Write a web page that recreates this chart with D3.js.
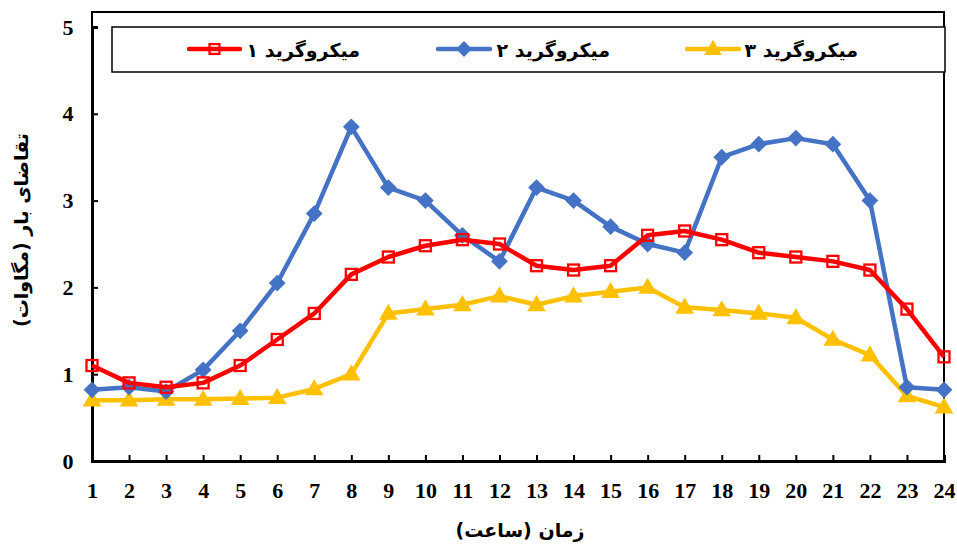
<!DOCTYPE html>
<html><head><meta charset="utf-8">
<script src="https://cdn.jsdelivr.net/npm/d3@7"></script>
<style>body{margin:0;background:#fff}svg{display:block}</style>
</head><body>
<script>
const hours = d3.range(1,25);
const yTicks = [0,1,2,3,4,5];
const seriesNames = ["میکروگرید ۱","میکروگرید ۲","میکروگرید ۳"];
const mg1 = [1.1,0.9,0.85,0.9,1.1,1.4,1.7,2.15,2.35,2.48,2.55,2.5,2.25,2.2,2.25,2.6,2.65,2.55,2.4,2.35,2.3,2.2,1.75,1.2];
const mg2 = [0.82,0.85,0.8,1.05,1.5,2.05,2.85,3.85,3.15,3.0,2.6,2.3,3.15,3.0,2.7,2.5,2.4,3.5,3.65,3.72,3.65,3.0,0.85,0.82];
const mg3 = [0.7,0.7,0.71,0.71,0.72,0.73,0.83,1.0,1.7,1.75,1.8,1.9,1.8,1.9,1.95,2.0,1.77,1.74,1.7,1.65,1.4,1.22,0.75,0.62];
const xTitle = "زمان (ساعت)";
const yTitle = "تقاضای بار (مگاوات)";

const W=957,H=544;
const L=92,R=944,T=12,B=461;
const svg=d3.select("body").append("svg").attr("width",W).attr("height",H);
const x=d3.scaleLinear().domain([1,24]).range([L,R]);
const y=d3.scaleLinear().domain([0,5]).range([B,27]);
const font='"Liberation Serif","Times New Roman",serif';
const afont='"DejaVu Sans","Noto Sans",sans-serif';

// frame
svg.append("rect").attr("x",L).attr("y",T).attr("width",R-L).attr("height",B-T)
  .attr("fill","none").attr("stroke","#000").attr("stroke-width",2);

// y axis
const ya=svg.append("g").attr("transform",`translate(${L},0)`)
  .call(d3.axisRight(y).tickValues(yTicks).tickSize(6).tickFormat(d3.format("d")));
ya.select(".domain").attr("stroke","#000").attr("stroke-width",3);
ya.selectAll(".tick line").attr("stroke","#000").attr("stroke-width",2);
ya.selectAll(".tick text").attr("x",-24).attr("text-anchor","middle")
  .style("font-family",font).style("font-weight","bold").style("font-size","22px").attr("fill","#000");

// x axis
const xa=svg.append("g").attr("transform",`translate(0,${B})`)
  .call(d3.axisTop(x).tickValues(hours).tickSize(6).tickFormat(d3.format("d")));
xa.select(".domain").attr("stroke","#000").attr("stroke-width",3);
xa.selectAll(".tick line").attr("stroke","#000").attr("stroke-width",2);
xa.selectAll(".tick text").attr("y",37)
  .style("font-family",font).style("font-weight","bold").style("font-size","22px").attr("fill","#000");

// titles
svg.append("text").attr("x",520).attr("y",537).attr("text-anchor","middle")
  .style("font-family",afont).style("font-weight","bold").style("font-size","19px").text(xTitle);
svg.append("text").attr("transform","translate(28,230) rotate(-90)").attr("text-anchor","middle")
  .style("font-family",afont).style("font-weight","bold").style("font-size","19px").text(yTitle);

const colors=["#FF0000","#4472C4","#FFC000"];
const data=[mg1,mg2,mg3];
const line=d3.line().x((d,i)=>x(hours[i])).y(d=>y(d));

function marker(g,k,cx,cy,scale){
  if(k===0){
    const s=11*scale;
    g.append("rect").attr("x",cx-s/2).attr("y",cy-s/2).attr("width",s).attr("height",s)
     .attr("fill","none").attr("stroke",colors[0]).attr("stroke-width",2.3);
  } else if(k===1){
    g.append("path").attr("d",d3.symbol(d3.symbolDiamond2,180*scale)()).attr("transform",`translate(${cx},${cy})`)
     .attr("fill",colors[1]);
  } else {
    g.append("path").attr("d",d3.symbol(d3.symbolTriangle,150*scale)()).attr("transform",`translate(${cx},${cy+1})`)
     .attr("fill",colors[2]);
  }
}

[2,1,0].forEach(k=>{
  const g=svg.append("g");
  g.append("path").datum(data[k]).attr("d",line).attr("fill","none")
    .attr("stroke",colors[k]).attr("stroke-width",4.5).attr("stroke-linejoin","round");
  data[k].forEach((v,i)=>marker(g,k,x(hours[i]),y(v),1));
});

// legend
svg.append("rect").attr("x",112).attr("y",27).attr("width",833).attr("height",45)
  .attr("fill","#fff").attr("stroke","#000").attr("stroke-width",1.5);
const legX=[[189,240,360],[438,490,610],[687,739,858]];
legX.forEach((p,k)=>{
  const g=svg.append("g");
  g.append("line").attr("x1",p[0]).attr("x2",p[1]).attr("y1",49).attr("y2",49)
    .attr("stroke",colors[k]).attr("stroke-width",4.5).attr("stroke-linecap","round");
  marker(g,k,(p[0]+p[1])/2,49,0.9);
  g.append("text").attr("x",p[2]).attr("y",57).attr("text-anchor","end")
    .style("font-family",afont).style("font-weight","bold").style("font-size","19px").text(seriesNames[k]);
});
</script>
</body></html>
